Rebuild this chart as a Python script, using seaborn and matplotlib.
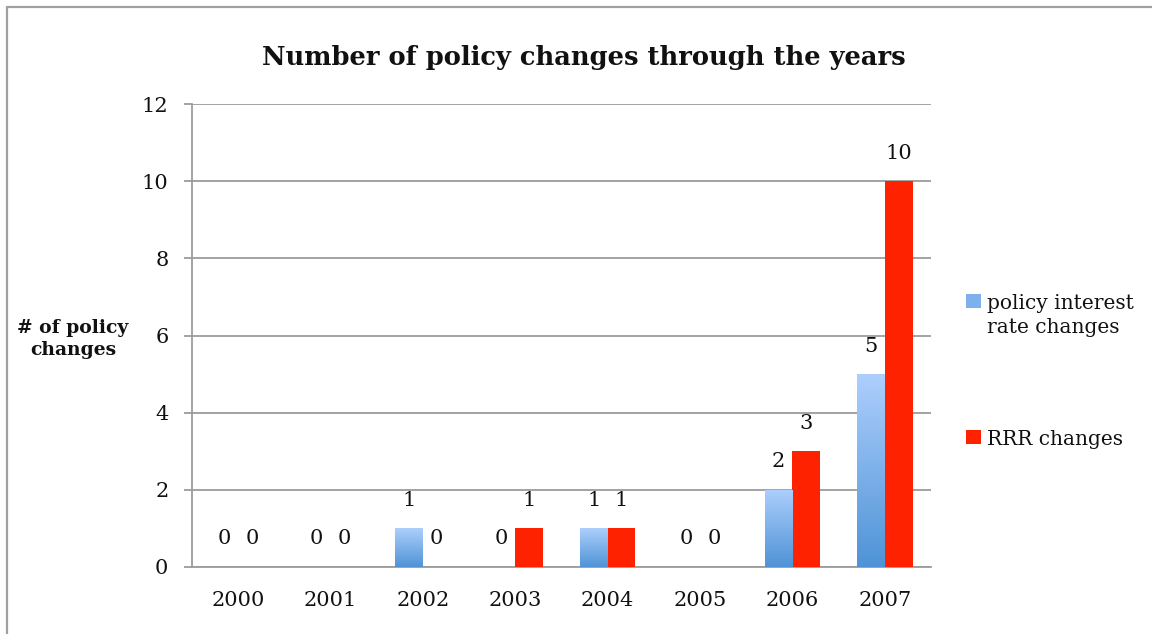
import numpy as np
import pandas as pd
import matplotlib
matplotlib.use("Agg")
import matplotlib.pyplot as plt
import seaborn as sns
from matplotlib.colors import LinearSegmentedColormap
from matplotlib.lines import Line2D

years = ['2000', '2001', '2002', '2003', '2004', '2005', '2006', '2007']
policy_rate_changes = [0, 0, 1, 0, 1, 0, 2, 5]
rrr_changes = [0, 0, 0, 1, 1, 0, 3, 10]
series_names = ['policy interest\nrate changes', 'RRR changes']
title = 'Number of policy changes through the years'
ylabel = '# of policy\nchanges'
yticks = [0, 2, 4, 6, 8, 10, 12]

df = pd.DataFrame({
    'year': years * 2,
    'count': policy_rate_changes + rrr_changes,
    'series': [series_names[0]] * len(years) + [series_names[1]] * len(years),
})

sns.set_style('white')
plt.rcParams['font.family'] = ['DejaVu Serif']

W, H = 1152, 634
fig = plt.figure(figsize=(W / 100, H / 100), dpi=100)
ax = fig.add_axes([192 / W, 1 - 567 / H, (931 - 192) / W, (567 - 104) / H])

blue_mid = '#7DB0EC'
red = '#FF2200'
sns.barplot(data=df, x='year', y='count', hue='series', palette=[blue_mid, red],
            width=0.6, saturation=1, ax=ax, legend=True, linewidth=0, zorder=3)

handles, labels = ax.get_legend_handles_labels()
ax.get_legend().remove()

ax.set_ylim(0, 12)
ax.set_xlim(-0.5, len(years) - 0.5)

# gradient fill on blue bars
cmap = LinearSegmentedColormap.from_list('bl', ['#4F93D6', '#ADCFFD'])
grad = np.linspace(0, 1, 256).reshape(-1, 1)
for p in ax.containers[0].patches:
    h = p.get_height()
    if h > 0:
        x0, y0, w = p.get_x(), p.get_y(), p.get_width()
        im = ax.imshow(grad, cmap=cmap, extent=[x0, x0 + w, y0, y0 + h],
                       aspect='auto', origin='lower', zorder=3.5)
        im.set_clip_path(p)
ax.set_ylim(0, 12)
ax.set_xlim(-0.5, len(years) - 0.5)

# value labels
for cont, vals in zip(ax.containers, [policy_rate_changes, rrr_changes]):
    for p, v in zip(cont.patches, vals):
        ax.annotate(str(v), (p.get_x() + p.get_width() / 2, p.get_height()),
                    xytext=(0, 28), textcoords='offset pixels', ha='center',
                    va='center', fontsize=15, color='#111111', zorder=5)

gray = '#9C9C9C'
ax.set_axisbelow(True)
ax.yaxis.grid(True, color=gray, lw=1.3)
ax.xaxis.grid(False)
for s in ['top', 'right']:
    ax.spines[s].set_visible(False)
for s in ['left', 'bottom']:
    ax.spines[s].set_color(gray)
    ax.spines[s].set_linewidth(1.3)

ax.set_yticks(yticks)
ax.set_yticklabels([str(t) for t in yticks])
ax.set_xticks(range(len(years)))
ax.set_xticklabels(years)
ax.set_xticks(np.arange(-0.5, len(years), 1), minor=True)
ax.tick_params(axis='x', which='major', length=0, pad=17, labelsize=15, labelcolor='#111111')
ax.tick_params(axis='x', which='minor', length=6, width=1.3, color=gray, direction='out')
ax.tick_params(axis='y', which='major', length=6, width=1.3, color=gray, direction='out',
               pad=11, labelsize=15, labelcolor='#111111', left=True)
ax.set_xlabel('')
ax.set_ylabel('')

fig.text(584 / W, 1 - 57 / H, title, ha='center', va='center', fontsize=18.5,
         fontweight='bold', color='#111111')
fig.text(73 / W, 1 - 339 / H, ylabel, ha='center', va='center', fontsize=13.5,
         fontweight='bold', multialignment='center', color='#111111', linespacing=1.3)

leg = fig.legend(handles, series_names, loc='upper left',
                 bbox_to_anchor=(966 / W, 1 - 294 / H), frameon=False,
                 fontsize=14.5, handlelength=0.72, handleheight=0.72,
                 handletextpad=0.3, labelspacing=4.6, borderpad=0, borderaxespad=0)
for t in leg.get_texts():
    t.set_linespacing(1.35)
    t.set_color('#111111')
for col in leg._legend_handle_box.get_children():
    for item in col.get_children():
        item.align = 'top'

# outer border
fig.add_artist(Line2D([7 / W, 1], [1 - 7 / H, 1 - 7 / H], color='#A0A0A0', lw=1.6,
                      transform=fig.transFigure))
fig.add_artist(Line2D([7 / W, 7 / W], [0, 1 - 7 / H], color='#A0A0A0', lw=1.6,
                      transform=fig.transFigure))

fig.savefig('out.png', dpi=100)
